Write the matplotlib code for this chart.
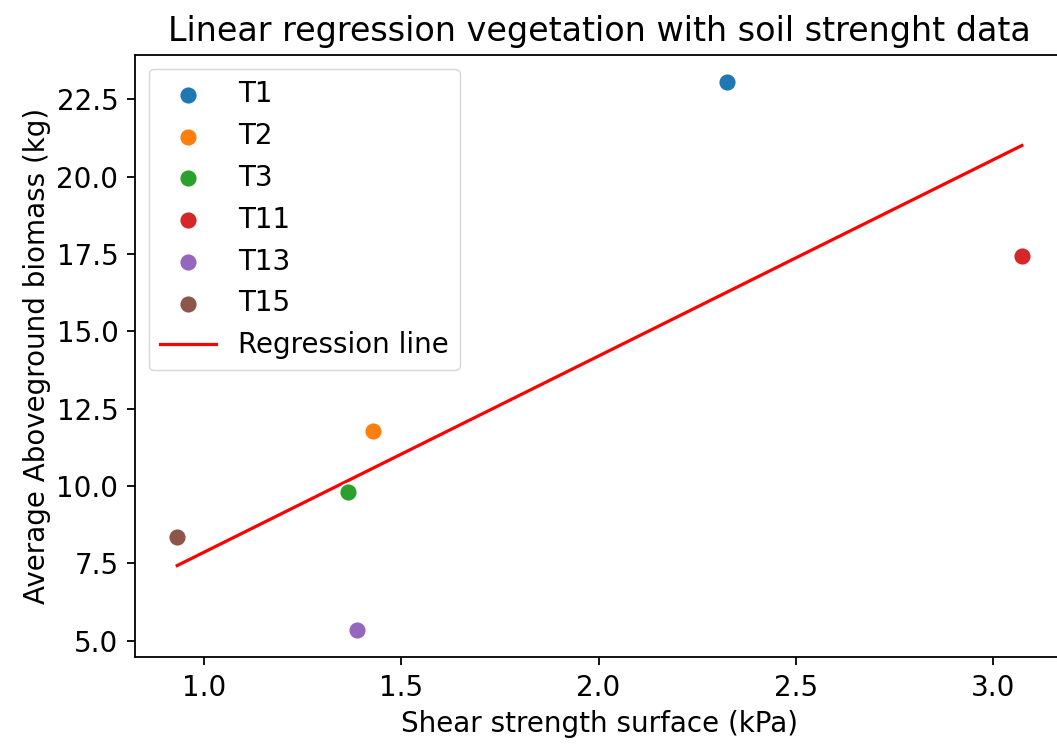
import matplotlib
matplotlib.use('Agg')
import matplotlib.pyplot as plt
import numpy as np

plots = ['T1', 'T2', 'T3', 'T11', 'T13', 'T15']
shear = [2.327, 1.429, 1.365, 3.074, 1.386, 0.931]
biomass = [23.05, 11.77, 9.80, 17.45, 5.36, 8.37]
colors = ['#1f77b4', '#ff7f0e', '#2ca02c', '#d62728', '#9467bd', '#8c564b']

s = 2.0
fig = plt.figure(figsize=(10.57, 7.45), dpi=100)
ax = fig.add_axes([0.1277, 0.1181, 0.879, 0.8081])

for name, xv, yv, c in zip(plots, shear, biomass, colors):
    ax.scatter(xv, yv, s=165, color=c, edgecolor='white', linewidth=1.2, label=name, zorder=3)

# least-squares fit through the six points
slope, icpt = np.polyfit(shear, biomass, 1)
xs = np.array([min(shear), max(shear)])
ax.plot(xs, slope*xs + icpt, color='red', linewidth=2.3, label='Regression line')

ax.set_title('Linear regression vegetation with soil strenght data', fontsize=12*s, pad=5*s)
ax.set_xlabel('Shear strength surface (kPa)', fontsize=10*s, labelpad=3*s)
ax.set_ylabel('Average Aboveground biomass (kg)', fontsize=10*s, labelpad=2*s)
ax.tick_params(labelsize=10*s, length=3.5*1.7, width=1.3, pad=3.5*1.7)
for sp in ax.spines.values():
    sp.set_linewidth(1.3)
ax.set_xticks([1.0, 1.5, 2.0, 2.5, 3.0])
ax.set_yticks([5.0, 7.5, 10.0, 12.5, 15.0, 17.5, 20.0, 22.5])
ax.legend(loc='upper left', fontsize=10*s)

plt.savefig('out.png', dpi=100)
